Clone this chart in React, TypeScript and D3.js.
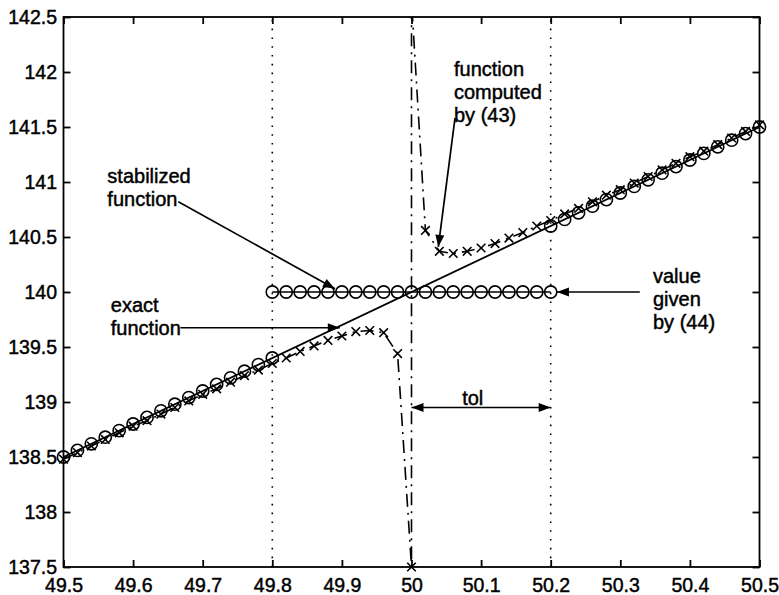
import React, { useEffect, useRef } from "react";
import * as d3 from "d3";

// sample points (step 0.02)
const sampleX = [
  49.5, 49.52, 49.54, 49.56, 49.58, 49.6, 49.62, 49.64, 49.66, 49.68, 49.7,
  49.72, 49.74, 49.76, 49.78, 49.8, 49.82, 49.84, 49.86, 49.88, 49.9, 49.92,
  49.94, 49.96, 49.98, 50, 50.02, 50.04, 50.06, 50.08, 50.1, 50.12, 50.14,
  50.16, 50.18, 50.2, 50.22, 50.24, 50.26, 50.28, 50.3, 50.32, 50.34, 50.36,
  50.38, 50.4, 50.42, 50.44, 50.46, 50.48, 50.5,
];

// exact function at the sample points
const exactY = [
  138.5, 138.56, 138.62, 138.68, 138.74, 138.8, 138.86, 138.92, 138.98, 139.04,
  139.1, 139.16, 139.22, 139.28, 139.34, 139.4, 139.46, 139.52, 139.58, 139.64,
  139.7, 139.76, 139.82, 139.88, 139.94, 140, 140.06, 140.12, 140.18, 140.24,
  140.3, 140.36, 140.42, 140.48, 140.54, 140.6, 140.66, 140.72, 140.78, 140.84,
  140.9, 140.96, 141.02, 141.08, 141.14, 141.2, 141.26, 141.32, 141.38, 141.44,
  141.5,
];

// function computed by (43); x = 50 appears twice (goes off both edges)
const computedX = [
  49.5, 49.52, 49.54, 49.56, 49.58, 49.6, 49.62, 49.64, 49.66, 49.68, 49.7,
  49.72, 49.74, 49.76, 49.78, 49.8, 49.82, 49.84, 49.86, 49.88, 49.9, 49.92,
  49.94, 49.96, 49.98, 50, 50, 50.02, 50.04, 50.06, 50.08, 50.1, 50.12, 50.14,
  50.16, 50.18, 50.2, 50.22, 50.24, 50.26, 50.28, 50.3, 50.32, 50.34, 50.36,
  50.38, 50.4, 50.42, 50.44, 50.46, 50.48, 50.5,
];
const computedY = [
  138.48, 138.54, 138.6, 138.66, 138.72, 138.78, 138.83, 138.89, 138.95, 139.01,
  139.07, 139.12, 139.18, 139.24, 139.29, 139.35, 139.4, 139.46, 139.51, 139.56,
  139.6, 139.64, 139.65, 139.63, 139.44, 137.5, 142.65, 140.56, 140.37, 140.35,
  140.37, 140.4, 140.44, 140.49, 140.54, 140.6, 140.65, 140.71, 140.76, 140.82,
  140.88, 140.93, 140.99, 141.05, 141.11, 141.17, 141.23, 141.28, 141.34, 141.4,
  141.46, 141.52,
];

const givenValue = 140; // value given by (44)
const tolLo = 49.8;
const tolHi = 50.2;

const xTicks = [49.5, 49.6, 49.7, 49.8, 49.9, 50, 50.1, 50.2, 50.3, 50.4, 50.5];
const xLabels = ["49.5", "49.6", "49.7", "49.8", "49.9", "50", "50.1", "50.2", "50.3", "50.4", "50.5"];
const yTicks = [137.5, 138, 138.5, 139, 139.5, 140, 140.5, 141, 141.5, 142, 142.5];
const yLabels = ["137.5", "138", "138.5", "139", "139.5", "140", "140.5", "141", "141.5", "142", "142.5"];

// annotations in data coordinates
const notes = [
  { lines: ["function", "computed", "by (43)"], x: 50.061, y: 141.964, from: [50.0625, 141.58], to: [50.0385, 140.41] },
  { lines: ["stabilized", "function"], x: 49.563, y: 140.988, from: [49.665, 140.82], to: [49.89, 140.03] },
  { lines: ["exact", "function"], x: 49.568, y: 139.815, from: [49.668, 139.675], to: [49.897, 139.675] },
  { lines: ["value", "given", "by (44)"], x: 50.347, y: 140.085, from: [50.328, 140.0], to: [50.209, 140.0] },
];

const W = 779, H = 595;
const margin = { top: 17, right: 19.5, bottom: 28, left: 63.5 };
const FONT = "'Liberation Sans', Arial, Helvetica, sans-serif";

const App = () => {
  const ref = useRef<SVGSVGElement>(null);

  useEffect(() => {
    const svg = d3.select(ref.current);
    svg.selectAll("*").remove();
    const w = W - margin.left - margin.right;
    const h = H - margin.top - margin.bottom;

    const x = d3.scaleLinear().domain([49.5, 50.5]).range([margin.left, margin.left + w]);
    const y = d3.scaleLinear().domain([137.5, 142.5]).range([margin.top + h, margin.top]);

    svg.append("rect").attr("width", W).attr("height", H).attr("fill", "#fff");

    svg.append("defs").append("clipPath").attr("id", "plotclip")
      .append("rect")
      .attr("x", margin.left).attr("y", margin.top)
      .attr("width", w).attr("height", h);

    // dotted tolerance lines
    svg.selectAll(".tolline")
      .data([tolLo, tolHi])
      .join("line")
      .attr("x1", d => x(d)).attr("x2", d => x(d))
      .attr("y1", y(137.5)).attr("y2", y(142.5))
      .attr("stroke", "#000").attr("stroke-width", 1.6)
      .attr("stroke-dasharray", "1.6,7.2");

    const plot = svg.append("g").attr("clip-path", "url(#plotclip)");

    // exact function
    const line = d3.line<number[]>().x(d => x(d[0])).y(d => y(d[1]));
    plot.append("path")
      .attr("d", line([[sampleX[0], exactY[0]], [sampleX[sampleX.length - 1], exactY[exactY.length - 1]]]))
      .attr("fill", "none").attr("stroke", "#000").attr("stroke-width", 1.8);

    // computed function, dash-dot
    const comp = computedX.map((v, i) => [v, computedY[i]]);
    plot.append("path")
      .attr("d", line(comp))
      .attr("fill", "none").attr("stroke", "#000").attr("stroke-width", 1.6)
      .attr("stroke-dasharray", "13,6,2,6");

    // stabilized function: flat part with line
    const flat = sampleX.filter(v => v >= tolLo - 1e-9 && v <= tolHi + 1e-9);
    plot.append("path")
      .attr("d", line([[flat[0], givenValue], [flat[flat.length - 1], givenValue]]))
      .attr("fill", "none").attr("stroke", "#000").attr("stroke-width", 1.4);

    const outer = sampleX.map((v, i) => [v, exactY[i]]).filter(d => d[0] <= tolLo + 1e-9 || d[0] >= tolHi - 1e-9);
    const circles = outer.concat(flat.map(v => [v, givenValue]));
    svg.append("g").selectAll("circle")
      .data(circles)
      .join("circle")
      .attr("cx", d => x(d[0])).attr("cy", d => y(d[1]))
      .attr("r", 6.1)
      .attr("fill", "none").attr("stroke", "#000").attr("stroke-width", 1.6);

    // x markers
    const s = 4.3;
    svg.append("g").selectAll("path")
      .data(comp.filter(d => d[1] >= 137.5 && d[1] <= 142.5))
      .join("path")
      .attr("d", d => {
        const cx = x(d[0]), cy = y(d[1]);
        return `M${cx - s},${cy - s}L${cx + s},${cy + s}M${cx - s},${cy + s}L${cx + s},${cy - s}`;
      })
      .attr("stroke", "#000").attr("stroke-width", 1.6).attr("fill", "none");

    // axes box
    svg.append("rect")
      .attr("x", margin.left).attr("y", margin.top)
      .attr("width", w).attr("height", h)
      .attr("fill", "none").attr("stroke", "#000").attr("stroke-width", 1.8);

    const styleAxis = (g: any) => {
      g.select(".domain").remove();
      g.selectAll("line").attr("stroke", "#000").attr("stroke-width", 1.8);
      g.selectAll("text").attr("fill", "#000")
        .attr("stroke", "#000").attr("stroke-width", 0.45)
        .style("font-family", FONT).style("font-size", "19.5px");
    };

    svg.append("g").attr("transform", `translate(0,${margin.top + h})`)
      .call(d3.axisBottom(x).tickValues(xTicks).tickSize(-7).tickPadding(11.5)
        .tickFormat((d, i) => xLabels[i]))
      .call(styleAxis);
    svg.append("g").attr("transform", `translate(0,${margin.top})`)
      .call(d3.axisTop(x).tickValues(xTicks).tickSize(-7).tickFormat(() => ""))
      .call(styleAxis);
    svg.append("g").attr("transform", `translate(${margin.left},0)`)
      .call(d3.axisLeft(y).tickValues(yTicks).tickSize(-7).tickPadding(6.5)
        .tickFormat((d, i) => yLabels[i]))
      .call(styleAxis);
    svg.append("g").attr("transform", `translate(${margin.left + w},0)`)
      .call(d3.axisRight(y).tickValues(yTicks).tickSize(-7).tickFormat(() => ""))
      .call(styleAxis);

    // arrows
    const arrowHead = (x1: number, y1: number, x2: number, y2: number) => {
      const a = Math.atan2(y2 - y1, x2 - x1);
      const L = 12, Wd = 4.5;
      const bx = x2 - L * Math.cos(a), by = y2 - L * Math.sin(a);
      const px = -Math.sin(a) * Wd, py = Math.cos(a) * Wd;
      return `M${x2},${y2}L${bx + px},${by + py}L${bx - px},${by - py}Z`;
    };
    const drawArrow = (x1: number, y1: number, x2: number, y2: number) => {
      svg.append("line")
        .attr("x1", x1).attr("y1", y1).attr("x2", x2).attr("y2", y2)
        .attr("stroke", "#000").attr("stroke-width", 1.7);
      svg.append("path").attr("d", arrowHead(x1, y1, x2, y2)).attr("fill", "#000");
    };

    notes.forEach(n => {
      const t = svg.append("text")
        .attr("x", x(n.x)).attr("y", y(n.y))
        .attr("stroke", "#000").attr("stroke-width", 0.45)
        .style("font-family", FONT).style("font-size", "20px").attr("fill", "#000");
      n.lines.forEach((ln, i) => {
        t.append("tspan").attr("x", x(n.x)).attr("dy", i === 0 ? 0 : 23).text(ln);
      });
      drawArrow(x(n.from[0]), y(n.from[1]), x(n.to[0]), y(n.to[1]));
    });

    // tol double arrow
    const ty = y(138.95);
    drawArrow(x(50.1), ty, x(tolHi), ty);
    drawArrow(x(50.1), ty, x(50), ty);
    svg.append("text")
      .attr("x", x(50.088)).attr("y", y(138.975))
      .attr("text-anchor", "middle")
      .attr("stroke", "#000").attr("stroke-width", 0.45)
      .style("font-family", FONT).style("font-size", "20px").attr("fill", "#000")
      .text("tol");
  }, []);

  return (
    <svg ref={ref} width={W} height={H} style={{ position: "absolute", left: 0, top: 0 }} />
  );
};

export default App;
